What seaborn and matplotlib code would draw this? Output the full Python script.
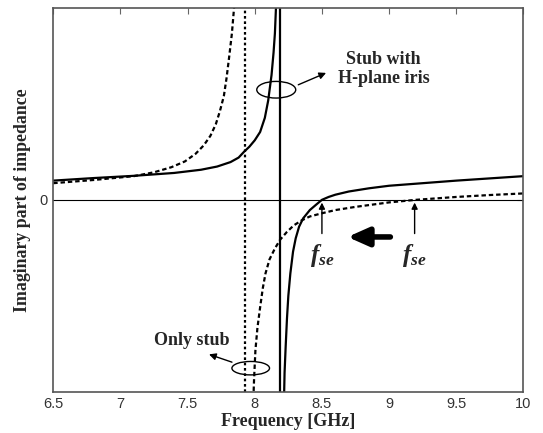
import numpy as np
import matplotlib
matplotlib.use("Agg")
import matplotlib.pyplot as plt
from matplotlib.patches import Ellipse
import seaborn as sns

# --- data (arbitrary impedance units) ---
# stub with H-plane iris (solid)
iris_left_f = [6.5, 6.8, 7.1, 7.4, 7.6, 7.72, 7.82, 7.88, 7.92, 7.96, 8.0, 8.04,
               8.075, 8.1, 8.125, 8.14, 8.15, 8.16]
iris_left_x = [0.30, 0.34, 0.375, 0.42, 0.47, 0.52, 0.59, 0.66, 0.75, 0.83, 0.93, 1.06,
               1.28, 1.55, 1.95, 2.3, 2.6, 3.1]
iris_right_f = [8.218, 8.222, 8.23, 8.24, 8.25, 8.265, 8.285, 8.305, 8.33, 8.36, 8.41,
                8.46, 8.5, 8.55, 8.6, 8.7, 8.85, 9.0, 9.25, 9.5, 9.75, 10.0]
iris_right_x = [-3.1, -2.7, -2.3, -1.85, -1.5, -1.15, -0.81, -0.6, -0.42, -0.29, -0.16,
                -0.07, 0.0, 0.045, 0.08, 0.13, 0.18, 0.22, 0.26, 0.30, 0.335, 0.37]

# only stub (dashed)
stub_left_f = [6.5, 6.8, 7.1, 7.25, 7.38, 7.48, 7.56, 7.62, 7.67, 7.71, 7.74, 7.77,
               7.79, 7.81, 7.83, 7.85]
stub_left_x = [0.26, 0.31, 0.37, 0.43, 0.51, 0.60, 0.72, 0.85, 1.0, 1.18, 1.38, 1.62,
               1.9, 2.24, 2.6, 3.1]
stub_right_f = [7.99, 7.995, 8.005, 8.02, 8.04, 8.06, 8.08, 8.11, 8.15, 8.19, 8.24, 8.29,
                8.35, 8.41, 8.5, 8.6, 8.75, 9.0, 9.1, 9.2, 9.5, 9.75, 10.0]
stub_right_x = [-3.1, -2.8, -2.35, -2.0, -1.68, -1.38, -1.15, -0.93, -0.76, -0.62, -0.5,
                -0.40, -0.32, -0.26, -0.21, -0.16, -0.11, -0.04, -0.02, 0.0, 0.045,
                0.075, 0.10]

iris_pole = 8.19
stub_pole = 7.925
fse_iris = 8.5
fse_stub = 9.19

x_ticks = [6.5, 7, 7.5, 8, 8.5, 9, 9.5, 10]
x_tick_labels = ["6.5", "7", "7.5", "8", "8.5", "9", "9.5", "10"]

sns.set_theme(style="white")
plt.rcParams["font.family"] = ["Liberation Sans", "DejaVu Sans"]
plt.rcParams["mathtext.fontset"] = "custom"
plt.rcParams["mathtext.it"] = "Liberation Serif:italic:bold"
plt.rcParams["mathtext.rm"] = "Liberation Serif:bold"

fig = plt.figure(figsize=(5.43, 4.33), dpi=100)
ax = fig.add_axes([0.098, 0.095, 0.866, 0.887])

dash = (0, (2.0, 1.3))
dots = (0, (1.2, 1.2))
lw = 1.6
sns.lineplot(x=iris_left_f, y=iris_left_x, ax=ax, color="black", lw=lw, estimator=None, sort=False)
sns.lineplot(x=iris_right_f, y=iris_right_x, ax=ax, color="black", lw=lw, estimator=None, sort=False)
sns.lineplot(x=stub_left_f, y=stub_left_x, ax=ax, color="black", lw=lw, linestyle=dash, estimator=None, sort=False)
sns.lineplot(x=stub_right_f, y=stub_right_x, ax=ax, color="black", lw=lw, linestyle=dash, estimator=None, sort=False)

ax.axvline(iris_pole, color="black", lw=lw)
ax.axvline(stub_pole, color="black", lw=lw, linestyle=dots)
ax.axhline(0, color="black", lw=0.8)

ax.set_xlim(6.5, 10)
ax.set_ylim(-3, 3)
ax.set_xticks(x_ticks)
ax.set_xticklabels(x_tick_labels)
ax.set_yticks([0])
ax.set_yticklabels(["0"])
ax.tick_params(direction="in", top=True, right=True, length=4, width=0.8,
               labelsize=10.5, labelcolor="#333333", colors="#666666", pad=4)
for s in ax.spines.values():
    s.set_color("#555555")
    s.set_linewidth(1.2)

serif = "Liberation Serif"
ax.set_xlabel("Frequency [GHz]", family=serif, fontweight="bold", fontsize=13, labelpad=1)
ax.set_ylabel("Imaginary part of impedance", family=serif, fontweight="bold", fontsize=12.8, labelpad=6)

# annotations
ax.add_patch(Ellipse((8.16, 1.72), 0.29, 0.26, fill=False, lw=1.0, color="black"))
ax.annotate("", xy=(8.55, 2.0), xytext=(8.305, 1.78),
            arrowprops=dict(arrowstyle="-|>", color="black", lw=1.0, mutation_scale=10))
ax.text(8.96, 2.04, "Stub with\nH-plane iris", family=serif, fontweight="bold",
        fontsize=13, ha="center", va="center", linespacing=1.15)

ax.add_patch(Ellipse((7.97, -2.63), 0.28, 0.21, fill=False, lw=1.0, color="black"))
ax.annotate("", xy=(7.64, -2.40), xytext=(7.85, -2.55),
            arrowprops=dict(arrowstyle="-|>", color="black", lw=1.0, mutation_scale=10))
ax.text(7.53, -2.19, "Only stub", family=serif, fontweight="bold",
        fontsize=13, ha="center", va="center")

for f in [fse_iris, fse_stub]:
    ax.annotate("", xy=(f, 0.0), xytext=(f, -0.57),
                arrowprops=dict(arrowstyle="-|>", color="black", lw=1.0, mutation_scale=9))
    ax.text(f, -0.87, r"$f_{se}$", fontsize=18, ha="center", va="center")

ax.annotate("", xy=(8.67, -0.58), xytext=(9.03, -0.58),
            arrowprops=dict(arrowstyle="-|>,head_length=0.9,head_width=0.4",
                            color="black", lw=4.0, mutation_scale=14))

fig.savefig("out.png", dpi=100)
